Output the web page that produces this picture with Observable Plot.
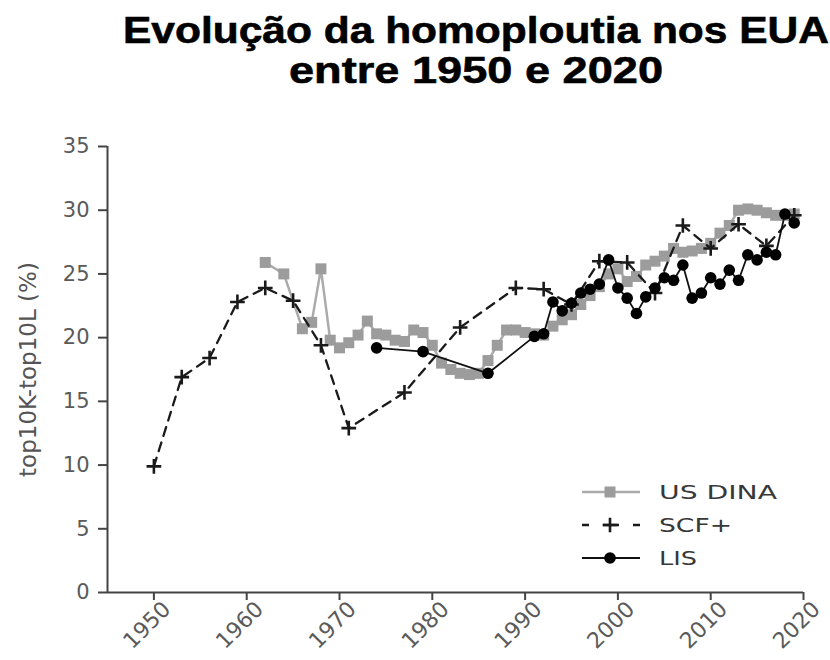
<!DOCTYPE html>
<html>
<head>
<meta charset="utf-8">
<script src="https://cdn.jsdelivr.net/npm/d3@7"></script>
<script src="https://cdn.jsdelivr.net/npm/@observablehq/plot@0.6"></script>
<style>
  body { margin: 0; background: #fff; }
  #wrap { position: relative; width: 830px; height: 660px; background: #fff; }
  #title, #legend { position: absolute; left: 0; top: 0; }
  #chart { position: absolute; left: 0; top: 110px; }
</style>
</head>
<body>
<div id="wrap">
  <svg id="title" width="830" height="110"></svg>
  <div id="chart"></div>
  <svg id="legend" width="830" height="660" style="pointer-events:none"></svg>
</div>
<script>
// ---------- data ----------
const titleLines = ["Evolução da homoploutia nos EUA", "entre 1950 e 2020"];
const yLabel = "top10K-top10L (%)";
const seriesNames = ["US DINA", "SCF+", "LIS"];
const xTicks = [1950, 1960, 1970, 1980, 1990, 2000, 2010, 2020];
const yTicks = [0, 5, 10, 15, 20, 25, 30, 35];
const xDomain = [1945, 2020];
const yDomain = [0, 35];

const dinaYears = [1962, 1964, 1966, 1967, 1968, 1969, 1970, 1971, 1972, 1973, 1974, 1975, 1976, 1977, 1978, 1979,
  1980, 1981, 1982, 1983, 1984, 1985, 1986, 1987, 1988, 1989, 1990, 1991, 1992, 1993, 1994, 1995, 1996, 1997, 1998, 1999,
  2000, 2001, 2002, 2003, 2004, 2005, 2006, 2007, 2008, 2009, 2010, 2011, 2012, 2013, 2014, 2015, 2016, 2017, 2018, 2019];
const dinaValues = [25.9, 25.0, 20.7, 21.2, 25.4, 19.8, 19.2, 19.6, 20.2, 21.3, 20.3, 20.2, 19.8, 19.7, 20.6, 20.4,
  19.4, 18.0, 17.5, 17.2, 17.1, 17.2, 18.2, 19.4, 20.6, 20.6, 20.4, 20.3, 20.2, 20.9, 21.4, 21.8, 22.6, 23.3, 24.0, 25.0,
  25.4, 24.4, 24.8, 25.7, 26.0, 26.4, 27.0, 26.7, 26.8, 27.0, 27.4, 28.2, 28.8, 30.0, 30.1, 30.0, 29.8, 29.6, 29.6, 29.7];

const scfYears = [1950, 1953, 1956, 1959, 1962, 1965, 1968, 1971, 1977, 1983, 1989, 1992, 1995, 1998, 2001, 2004, 2007, 2010, 2013, 2016, 2019];
const scfValues = [9.9, 16.9, 18.4, 22.8, 23.9, 22.9, 19.4, 12.9, 15.7, 20.8, 23.9, 23.8, 22.6, 26.0, 25.9, 23.5, 28.8, 27.0, 28.9, 27.2, 29.6];

const lisYears = [1974, 1979, 1986, 1991, 1992, 1993, 1994, 1995, 1996, 1997, 1998, 1999, 2000, 2001, 2002, 2003, 2004,
  2005, 2006, 2007, 2008, 2009, 2010, 2011, 2012, 2013, 2014, 2015, 2016, 2017, 2018, 2019];
const lisValues = [19.2, 18.9, 17.2, 20.1, 20.3, 22.8, 22.1, 22.7, 23.5, 23.8, 24.2, 26.1, 23.9, 23.1, 21.9, 23.2, 23.9,
  24.7, 24.5, 25.7, 23.1, 23.5, 24.7, 24.2, 25.3, 24.5, 26.5, 26.1, 26.7, 26.5, 29.7, 29.0];

// ---------- tables ----------
const dina = dinaYears.map((x, i) => ({x, y: dinaValues[i]}));
const scf = scfYears.map((x, i) => ({x, y: scfValues[i]}));
const lis = lisYears.map((x, i) => ({x, y: lisValues[i]}));

const GRAY = "#9c9c9c";
const PLUS_R = 4.8;

// ---------- title ----------
const tsvg = d3.select("#title");
const titleLens = [706, 374];
const titleBase = [43, 83];
titleLines.forEach((t, i) => {
  tsvg.append("text")
    .attr("x", 476).attr("y", titleBase[i])
    .attr("text-anchor", "middle")
    .attr("font-family", "Liberation Sans, Arial, sans-serif")
    .attr("font-weight", "bold")
    .attr("font-size", 37)
    .attr("fill", "#000")
    .attr("stroke", "#000").attr("stroke-width", 0.6)
    .attr("textLength", titleLens[i])
    .attr("lengthAdjust", "spacingAndGlyphs")
    .text(t);
});

// ---------- chart ----------
const chart = Plot.plot({
  width: 830,
  height: 550,
  marginTop: 36,
  marginBottom: 68,
  marginLeft: 107,
  marginRight: 27,
  style: {fontFamily: "DejaVu Sans, sans-serif", fontSize: "21px", color: "#555", background: "#fff"},
  x: {domain: xDomain},
  y: {domain: yDomain},
  marks: [
    Plot.axisY({ticks: yTicks, tickSize: 9, tickPadding: 9, label: null, stroke: "#444", fill: "#5a5a5a", strokeWidth: 2, fontSize: 21}),
    Plot.axisX({ticks: xTicks, tickFormat: () => "", tickSize: 8, label: null, stroke: "#444", strokeWidth: 2}),
    Plot.axisX({ticks: xTicks, tickFormat: d => String(d), tickRotate: -45, tickSize: 0, tickPadding: 12,
      label: null, fill: "#5a5a5a", fontSize: 22, dx: 13, dy: 1}),
    Plot.ruleY([yDomain[0]], {stroke: "#444", strokeWidth: 2}),
    Plot.ruleX([xDomain[0]], {stroke: "#444", strokeWidth: 2}),
    Plot.text([yLabel], {frameAnchor: "left", textAnchor: "middle", rotate: -90, dx: -79, fontSize: 23, fill: "#555"}),
    // US DINA
    Plot.line(dina, {x: "x", y: "y", stroke: "#ababab", strokeWidth: 2.5}),
    Plot.dot(dina, {x: "x", y: "y", symbol: "square", r: 6.2, fill: GRAY, stroke: "none"}),
    // SCF+
    Plot.line(scf, {x: "x", y: "y", stroke: "#1a1a1a", strokeWidth: 2.3, strokeDasharray: "9,7"}),
    Plot.dot(scf, {x: "x", y: "y", symbol: "plus", r: PLUS_R, stroke: "#1a1a1a", strokeWidth: 2.6}),
    // LIS
    Plot.line(lis, {x: "x", y: "y", stroke: "#111", strokeWidth: 1.8}),
    Plot.dot(lis, {x: "x", y: "y", r: 5.8, fill: "#000", stroke: "none"})
  ]
});
document.getElementById("chart").appendChild(chart);

// ---------- legend ----------
const lsvg = d3.select("#legend");
const rowsY = [492, 525, 558];
const textLens = [118, 73, 38];
const x0 = 582, x1 = 640, xm = 610, xt = 659;
// row 1: gray line + square
lsvg.append("line").attr("x1", x0).attr("x2", x1).attr("y1", rowsY[0]).attr("y2", rowsY[0])
  .attr("stroke", "#ababab").attr("stroke-width", 2.5);
lsvg.append("path").attr("transform", `translate(${xm},${rowsY[0]})`)
  .attr("d", d3.symbol(d3.symbolSquare, Math.PI * 6.2 * 6.2)()).attr("fill", GRAY);
// row 2: dashes + plus
lsvg.append("line").attr("x1", x0).attr("x2", x1).attr("y1", rowsY[1]).attr("y2", rowsY[1])
  .attr("stroke", "#1a1a1a").attr("stroke-width", 2.3).attr("stroke-dasharray", "7,14,16,14,7");
lsvg.append("path").attr("transform", `translate(${xm},${rowsY[1]})`)
  .attr("d", d3.symbol(d3.symbolPlus, Math.PI * PLUS_R * PLUS_R)()).attr("fill", "none")
  .attr("stroke", "#1a1a1a").attr("stroke-width", 2.6);
// row 3: black line + dot
lsvg.append("line").attr("x1", x0).attr("x2", x1).attr("y1", rowsY[2]).attr("y2", rowsY[2])
  .attr("stroke", "#111").attr("stroke-width", 1.8);
lsvg.append("circle").attr("cx", xm).attr("cy", rowsY[2]).attr("r", 5.8).attr("fill", "#000");
seriesNames.forEach((n, i) => {
  lsvg.append("text").attr("x", xt).attr("y", rowsY[i]).attr("dy", "0.36em")
    .attr("font-family", "DejaVu Sans, sans-serif").attr("font-size", 20)
    .attr("fill", "#383838")
    .attr("textLength", textLens[i]).attr("lengthAdjust", "spacingAndGlyphs")
    .text(n);
});
</script>
</body>
</html>
